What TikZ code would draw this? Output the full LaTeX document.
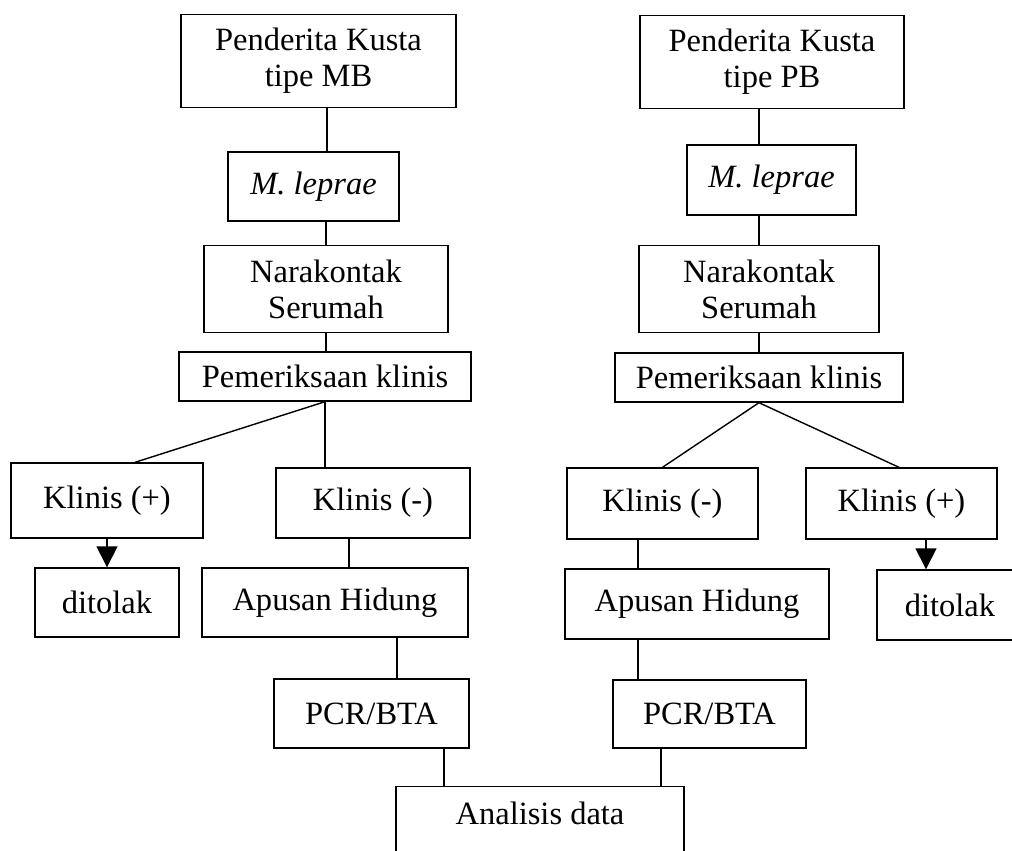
\documentclass[tikz,border=0pt]{standalone}
\usepackage{fontspec}
\setmainfont{Liberation Serif}
\usetikzlibrary{
    arrows.meta
}

\begin{document}
\begin{tikzpicture}[
x=0.02cm, y=-0.02cm,
box/.style={
draw,
line width=0.8pt,
inner sep=2pt,
align=center,
font=\fontsize{18.5}{20.5}\selectfont
},
link/.style={line width=0.8pt},
arr/.style={line width=0.8pt, -{Triangle[length=0.42cm, width=0.42cm]}}
]

\clip (0,0) rectangle (1012,850);
\fill[white] (0,0) rectangle (1012,850);

% kolom kiri (MB)
\node[box, minimum width=5.5cm, minimum height=1.86cm] (mb) at (318.5,61)
{Penderita Kusta\\tipe MB};
\node[box, minimum width=3.42cm, minimum height=1.38cm] (lepL) at (313.5,186.5)
{\itshape M. leprae};
\node[box, minimum width=4.88cm, minimum height=1.74cm] (narL) at (326,289)
{Narakontak\\Serumah};
\node[box, minimum width=5.84cm, minimum height=0.98cm] (pemL) at (325,376.5)
{Pemeriksaan klinis};
\node[box, minimum width=3.84cm, minimum height=1.5cm] (kpL) at (107,500.5)
{Klinis (+)};
\node[box, minimum width=3.88cm, minimum height=1.4cm] (kmL) at (373,503)
{Klinis (-)};
\node[box, minimum width=2.88cm, minimum height=1.38cm] (ditL) at (107,602.5)
{ditolak};
\node[box, minimum width=5.32cm, minimum height=1.38cm] (apL) at (335,602.5)
{Apusan Hidung};
\node[box, minimum width=3.9cm, minimum height=1.38cm] (pcrL) at (371.5,713.5)
{PCR/BTA};

% kolom kanan (PB)
\node[box, minimum width=5.28cm, minimum height=1.86cm] (pb) at (772,62)
{Penderita Kusta\\tipe PB};
\node[box, minimum width=3.38cm, minimum height=1.4cm] (lepR) at (771.5,180)
{\itshape M. leprae};
\node[box, minimum width=4.8cm, minimum height=1.74cm] (narR) at (759,289)
{Narakontak\\Serumah};
\node[box, minimum width=5.76cm, minimum height=0.98cm] (pemR) at (759,377.5)
{Pemeriksaan klinis};
\node[box, minimum width=3.82cm, minimum height=1.42cm] (kmR) at (662.5,503.5)
{Klinis (-)};
\node[box, minimum width=3.82cm, minimum height=1.42cm] (kpR) at (901.5,503.5)
{Klinis (+)};
\node[box, minimum width=5.28cm, minimum height=1.4cm] (apR) at (697,604)
{Apusan Hidung};
\node[box, minimum width=2.92cm, minimum height=1.4cm] (ditR) at (950,605)
{ditolak};
\node[box, minimum width=3.86cm, minimum height=1.36cm] (pcrR) at (709.5,714)
{PCR/BTA};

% gabungan
\node[box, anchor=north, minimum width=5.76cm, minimum height=1.48cm,
text depth=0.43cm] (data) at (540,786)
{Analisis data};

% garis kiri
\draw[link] ([xshift=0.17cm]mb.south) -- ([xshift=0.17cm]mb.south |- lepL.north);
\draw[link] ([xshift=0.25cm]lepL.south) -- ([xshift=0.25cm]lepL.south |- narL.north);
\draw[link] (narL.south) -- (narL.south |- pemL.north);
\draw[link] (pemL.south) -- ([xshift=0.56cm]kpL.north);
\draw[link] (pemL.south) -- (pemL.south |- kmL.north);
\draw[arr] (kpL.south) -- (ditL.north);
\draw[link] ([xshift=-0.48cm]kmL.south) -- ([xshift=-0.48cm]kmL.south |- apL.north);
\draw[link] ([xshift=0.51cm]pcrL.north |- apL.south) -- ([xshift=0.51cm]pcrL.north);
\draw[link] ([xshift=1.45cm]pcrL.south) -- ([xshift=1.45cm]pcrL.south |- data.north);

% garis kanan
\draw[link] ([xshift=-0.26cm]pb.south) -- ([xshift=-0.26cm]pb.south |- lepR.north);
\draw[link] (narR.north |- lepR.south) -- (narR.north);
\draw[link] (narR.south) -- (pemR.north);
\draw[link] (pemR.south) -- (kmR.north);
\draw[link] (pemR.south) -- ([xshift=-0.05cm]kpR.north);
\draw[arr] ([xshift=0.49cm]kpR.south) -- ([xshift=0.49cm]kpR.south |- ditR.north);
\draw[link] ([xshift=-0.49cm]kmR.south) -- ([xshift=-0.49cm]kmR.south |- apR.north);
\draw[link] ([xshift=-1.43cm]pcrR.north |- apR.south) -- ([xshift=-1.43cm]pcrR.north);
\draw[link] ([xshift=-0.97cm]pcrR.south) -- ([xshift=-0.97cm]pcrR.south |- data.north);

\end{tikzpicture}
\end{document}
